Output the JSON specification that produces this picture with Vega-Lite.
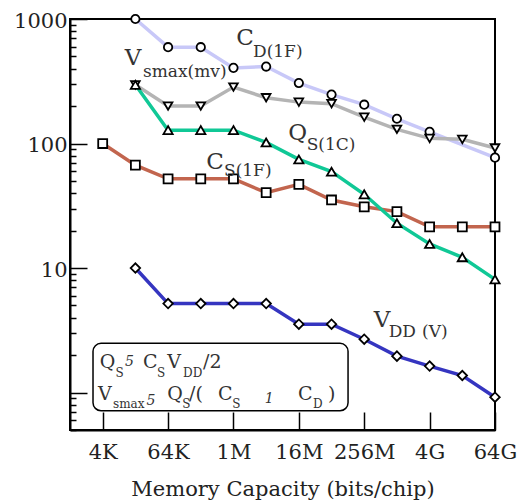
{
  "$schema": "https://vega.github.io/schema/vega-lite/v6.json",
  "width": 425,
  "height": 411,
  "autosize": {"type": "none"},
  "padding": {"left": 70, "top": 19, "right": 29, "bottom": 71},
  "background": "white",
  "config": {
    "view": {"stroke": "black", "strokeWidth": 2},
    "axis": {
      "grid": false, "domainColor": "black", "domainWidth": 2,
      "tickColor": "black", "tickWidth": 1.5,
      "labelFont": "DejaVu Serif", "labelFontSize": 21, "labelColor": "#222",
      "titleFont": "DejaVu Serif", "titleFontSize": 21, "titleFontWeight": "normal", "titleColor": "#222"
    }
  },
  "datasets": {
    "d": [
      {"series": "CD", "i": 2, "v": 1000}, {"series": "CD", "i": 3, "v": 594}, {"series": "CD", "i": 4, "v": 594},
      {"series": "CD", "i": 5, "v": 405}, {"series": "CD", "i": 6, "v": 415}, {"series": "CD", "i": 7, "v": 306},
      {"series": "CD", "i": 8, "v": 247}, {"series": "CD", "i": 9, "v": 205}, {"series": "CD", "i": 10, "v": 158},
      {"series": "CD", "i": 11, "v": 124}, {"series": "CD", "i": 13, "v": 77},
      {"series": "Vs", "i": 2, "v": 296}, {"series": "Vs", "i": 3, "v": 200}, {"series": "Vs", "i": 4, "v": 200},
      {"series": "Vs", "i": 5, "v": 284}, {"series": "Vs", "i": 6, "v": 233}, {"series": "Vs", "i": 7, "v": 215},
      {"series": "Vs", "i": 8, "v": 209}, {"series": "Vs", "i": 9, "v": 163}, {"series": "Vs", "i": 10, "v": 130},
      {"series": "Vs", "i": 11, "v": 110}, {"series": "Vs", "i": 12, "v": 108}, {"series": "Vs", "i": 13, "v": 92},
      {"series": "CS", "i": 1, "v": 100}, {"series": "CS", "i": 2, "v": 67}, {"series": "CS", "i": 3, "v": 52},
      {"series": "CS", "i": 4, "v": 52}, {"series": "CS", "i": 5, "v": 52}, {"series": "CS", "i": 6, "v": 40.3},
      {"series": "CS", "i": 7, "v": 47}, {"series": "CS", "i": 8, "v": 35.2}, {"series": "CS", "i": 9, "v": 31},
      {"series": "CS", "i": 10, "v": 28.4}, {"series": "CS", "i": 11, "v": 21.4}, {"series": "CS", "i": 12, "v": 21.4},
      {"series": "CS", "i": 13, "v": 21.4},
      {"series": "QS", "i": 2, "v": 296}, {"series": "QS", "i": 3, "v": 128}, {"series": "QS", "i": 4, "v": 128},
      {"series": "QS", "i": 5, "v": 128}, {"series": "QS", "i": 6, "v": 102}, {"series": "QS", "i": 7, "v": 74.5},
      {"series": "QS", "i": 8, "v": 59.4}, {"series": "QS", "i": 9, "v": 39.1}, {"series": "QS", "i": 10, "v": 22.9},
      {"series": "QS", "i": 11, "v": 15.6}, {"series": "QS", "i": 12, "v": 12.2}, {"series": "QS", "i": 13, "v": 8.1},
      {"series": "VDD", "i": 2, "v": 10}, {"series": "VDD", "i": 3, "v": 5.18}, {"series": "VDD", "i": 4, "v": 5.18},
      {"series": "VDD", "i": 5, "v": 5.18}, {"series": "VDD", "i": 6, "v": 5.18}, {"series": "VDD", "i": 7, "v": 3.54},
      {"series": "VDD", "i": 8, "v": 3.54}, {"series": "VDD", "i": 9, "v": 2.68}, {"series": "VDD", "i": 10, "v": 1.96},
      {"series": "VDD", "i": 11, "v": 1.63}, {"series": "VDD", "i": 12, "v": 1.37}, {"series": "VDD", "i": 13, "v": 0.917}
    ],
    "ann": [
      {"role": "main", "t": "C", "i": 5.087, "v": 618},
      {"role": "main", "t": "V", "i": 1.673, "v": 427},
      {"role": "main", "t": "Q", "i": 6.678, "v": 106.7},
      {"role": "main", "t": "C", "i": 4.169, "v": 62.7},
      {"role": "main", "t": "V", "i": 9.29, "v": 3.377},
      {"role": "sub", "t": "D(1F)", "i": 5.598, "v": 498},
      {"role": "sub", "t": "smax(mv)", "i": 2.233, "v": 340},
      {"role": "sub", "t": "S(1C)", "i": 7.241, "v": 88.7},
      {"role": "sub", "t": "S(1F)", "i": 4.711, "v": 54.8},
      {"role": "sub", "t": "DD", "i": 9.749, "v": 2.807},
      {"role": "sub", "t": "(V)", "i": 10.768, "v": 2.807},
      {"role": "boxmain", "t": "Q", "i": 0.909, "v": 1.565},
      {"role": "boxmain", "t": "C", "i": 2.233, "v": 1.565},
      {"role": "boxmain", "t": "V", "i": 2.976, "v": 1.565},
      {"role": "boxmain", "t": "/2", "i": 4.069, "v": 1.565},
      {"role": "boxmain", "t": "V", "i": 0.857, "v": 0.8706},
      {"role": "boxmain", "t": "Q", "i": 2.976, "v": 0.8706},
      {"role": "boxmain", "t": "/(", "i": 3.64, "v": 0.8706},
      {"role": "boxmain", "t": "C", "i": 4.527, "v": 0.8706},
      {"role": "boxmain", "t": "C", "i": 6.975, "v": 0.8706},
      {"role": "boxmain", "t": ")", "i": 7.892, "v": 0.8706},
      {"role": "boxsub", "t": "S", "i": 1.392, "v": 1.332},
      {"role": "boxsub", "t": "S", "i": 2.66, "v": 1.332},
      {"role": "boxsub", "t": "DD", "i": 3.457, "v": 1.332},
      {"role": "boxsub", "t": "smax", "i": 1.315, "v": 0.7508},
      {"role": "boxsub", "t": "S", "i": 3.43, "v": 0.7508},
      {"role": "boxsub", "t": "S", "i": 4.96, "v": 0.7508},
      {"role": "boxsub", "t": "D", "i": 7.433, "v": 0.7508},
      {"role": "boxop", "t": "5", "i": 1.68, "v": 1.633},
      {"role": "boxop", "t": "5", "i": 2.34, "v": 0.7936},
      {"role": "boxop", "t": "1", "i": 5.956, "v": 0.819}
    ],
    "box": [{"i": 0.704, "i2": 8.505, "v": 2.484, "v2": 0.714}]
  },
  "layer": [
    {
      "data": {"name": "d"},
      "mark": {"type": "line", "strokeWidth": 3.5},
      "encoding": {
        "x": {
          "field": "i", "type": "quantitative",
          "scale": {"domain": [0, 13], "nice": false, "zero": false},
          "axis": {
            "values": [1, 2, 3, 4, 5, 6, 7, 8, 9, 10, 11, 12, 13],
            "labelExpr": "datum.value % 2 == 1 ? ['1K','4K','16K','64K','256K','1M','4M','16M','64M','256M','1G','4G','16G','64G'][datum.value] : ''",
            "tickSize": -18, "labelPadding": 29, "labelFlush": false,
            "title": "Memory Capacity (bits/chip)", "titlePadding": 16
          }
        },
        "y": {
          "field": "v", "type": "quantitative",
          "scale": {"type": "log", "domain": [0.5, 1000], "nice": false},
          "axis": {
            "values": [0.5, 0.6, 0.7, 0.8, 0.9, 1, 2, 3, 4, 5, 6, 7, 8, 9, 10, 20, 30, 40, 50, 60, 70, 80, 90, 100, 200, 300, 400, 500, 600, 700, 800, 900, 1000],
            "labelExpr": "(datum.value == 10 || datum.value == 100 || datum.value == 1000) ? format(datum.value, 'd') : ''",
            "tickSize": {"condition": {"test": "datum.value == 1 || datum.value == 10 || datum.value == 100 || datum.value == 1000", "value": -17}, "value": -6},
            "labelPadding": 20, "labelOffset": 2, "labelFlush": false,
            "title": null
          }
        },
        "color": {
          "field": "series", "type": "nominal", "legend": null,
          "scale": {"domain": ["CD", "Vs", "CS", "QS", "VDD"], "range": ["#c8c8f8", "#b4b4b4", "#c2654e", "#10c896", "#3535c0"]}
        },
        "order": {"field": "i", "type": "quantitative"}
      }
    },
    {
      "data": {"name": "d"},
      "mark": {"type": "point", "filled": true, "fill": "white", "stroke": "black", "strokeWidth": 1.8, "opacity": 1},
      "encoding": {
        "x": {"field": "i", "type": "quantitative"},
        "y": {"field": "v", "type": "quantitative"},
        "shape": {
          "field": "series", "type": "nominal", "legend": null,
          "scale": {"domain": ["CD", "Vs", "CS", "QS", "VDD"], "range": ["circle", "triangle-down", "square", "triangle-up", "diamond"]}
        },
        "size": {
          "field": "series", "type": "nominal", "legend": null,
          "scale": {"domain": ["CD", "Vs", "CS", "QS", "VDD"], "range": [70, 90, 85, 90, 115]}
        }
      }
    },
    {
      "data": {"name": "box"},
      "mark": {"type": "rect", "fill": "white", "stroke": "black", "strokeWidth": 1.5, "cornerRadius": 8},
      "encoding": {
        "x": {"field": "i", "type": "quantitative"},
        "x2": {"field": "i2"},
        "y": {"field": "v", "type": "quantitative"},
        "y2": {"field": "v2"}
      }
    },
    {
      "data": {"name": "ann"},
      "transform": [{"filter": "datum.role == 'main'"}],
      "mark": {"type": "text", "align": "left", "baseline": "alphabetic", "font": "DejaVu Serif", "fontSize": 23, "color": "#333"},
      "encoding": {"x": {"field": "i", "type": "quantitative"}, "y": {"field": "v", "type": "quantitative"}, "text": {"field": "t"}}
    },
    {
      "data": {"name": "ann"},
      "transform": [{"filter": "datum.role == 'sub'"}],
      "mark": {"type": "text", "align": "left", "baseline": "alphabetic", "font": "DejaVu Serif", "fontSize": 17, "color": "#333"},
      "encoding": {"x": {"field": "i", "type": "quantitative"}, "y": {"field": "v", "type": "quantitative"}, "text": {"field": "t"}}
    },
    {
      "data": {"name": "ann"},
      "transform": [{"filter": "datum.role == 'boxmain'"}],
      "mark": {"type": "text", "align": "left", "baseline": "alphabetic", "font": "DejaVu Serif", "fontSize": 19, "color": "#333"},
      "encoding": {"x": {"field": "i", "type": "quantitative"}, "y": {"field": "v", "type": "quantitative"}, "text": {"field": "t"}}
    },
    {
      "data": {"name": "ann"},
      "transform": [{"filter": "datum.role == 'boxsub'"}],
      "mark": {"type": "text", "align": "left", "baseline": "alphabetic", "font": "DejaVu Serif", "fontSize": 12, "color": "#333"},
      "encoding": {"x": {"field": "i", "type": "quantitative"}, "y": {"field": "v", "type": "quantitative"}, "text": {"field": "t"}}
    },
    {
      "data": {"name": "ann"},
      "transform": [{"filter": "datum.role == 'boxop'"}],
      "mark": {"type": "text", "align": "left", "baseline": "alphabetic", "font": "DejaVu Serif", "fontSize": 14, "fontStyle": "italic", "color": "#333"},
      "encoding": {"x": {"field": "i", "type": "quantitative"}, "y": {"field": "v", "type": "quantitative"}, "text": {"field": "t"}}
    }
  ]
}
